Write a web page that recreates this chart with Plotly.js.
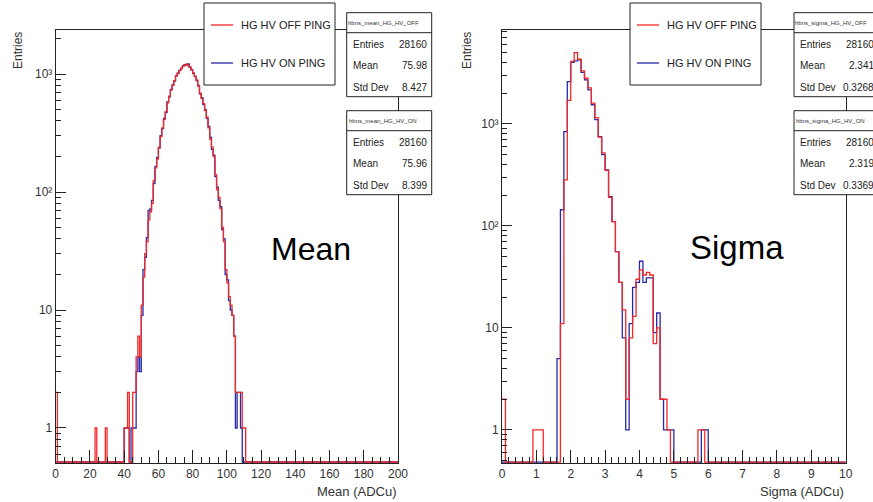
<!DOCTYPE html>
<html><head><meta charset="utf-8">
<script src="https://cdn.plot.ly/plotly-3.0.1.min.js"></script>
<style>html,body{margin:0;padding:0;background:#fff;}#chart{width:873px;height:502px;}</style>
</head><body><div id="chart"></div>
<script>
// ---------------- data ----------------
const meanBinWidth = 1;      // ADCu, bins start at 0
const meanOff = [2,0,0,0,0,0,0,0,0,0, 0,0,0,0,0,0,0,0,0,0, 0,0,0,1,0,0,0,0,0,1,
  0,0,0,0,0,0,0,0,0,0, 1,1,2,0,0,2,2,4,6,4,
  11,19,30,38,58,68,80,125,160,190, 240,295,350,410,480,570,650,730,800,880,
  960,1020,1070,1120,1160,1190,1210,1180,1150,1080, 1020,950,890,790,690,620,560,490,430,350,
  280,240,200,140,105,90,72,50,38,22, 17,13,11,9,6,2,2,2,2,1, 1];
const meanOn = [0,0,0,0,0,0,0,0,0,0, 0,0,0,0,0,0,0,0,0,0, 0,0,0,0,0,0,0,0,0,0,
  0,0,0,0,0,0,0,0,0,0, 1,1,1,0,1,1,1,3,4,3,
  9,22,28,41,70,72,85,118,165,196, 235,300,345,420,470,580,640,740,810,870,
  970,1010,1080,1110,1170,1200,1190,1220,1140,1090, 1010,960,880,800,680,630,550,500,420,360,
  290,230,205,135,110,85,75,48,40,20, 18,12,10,9,6,1,2,2,1];
const sigmaBinWidth = 0.1;   // ADCu, bins start at 0
const sigmaOff = [2,0,0,0,0,0,0,0,0,1, 1,1,0,0,0,0,0,11,283,1700,
  4100,5000,4300,3300,2800,2250,1600,1150,740,520, 350,190,110,56,28,15,2,8,13,30,
  37,33,35,33,7,10,2,2,1,0, 0,0,0,0,0,0,0,1,1];
const sigmaOn = [0,0,0,0,0,0,0,0,0,0, 0,0,0,0,0,0,5,144,840,2600,
  4000,4150,4250,3200,2700,2150,1540,1100,750,500, 354,194,110,56,28,8,1,11,25,28,
  45,28,31,31,9,14,2,1,1,1, 0,0,0,0,0,0,0,0,1,1];

const seriesNames = ['HG HV OFF PING', 'HG HV ON PING'];
const statsLabels = ['Entries', 'Mean', 'Std Dev'];
const meanStatsTitles = ['hbns_mean_HG_HV_OFF', 'hbns_mean_HG_HV_ON'];
const meanStatsOff = ['28160', '75.98', '8.427'];
const meanStatsOn = ['28160', '75.96', '8.399'];
const sigmaStatsTitles = ['hbns_sigma_HG_HV_OFF', 'hbns_sigma_HG_HV_ON'];
const sigmaStatsOff = ['28160', '2.341', '0.3268'];
const sigmaStatsOn = ['28160', '2.319', '0.3369'];
const bigLabels = ['Mean', 'Sigma'];
const xTitles = ['Mean (ADCu)', 'Sigma (ADCu)'];
const yTitle = 'Entries';
const yTickVals = [1, 10, 100, 1000];
const yTickText = ['1', '10', '10\u00B2', '10\u00B3'];

// ---------------- styling / layout ----------------
const W = 873, H = 502;
const FONT = 'Liberation Sans, Arial, Helvetica, sans-serif';
const RED = '#f02828', BLUE = '#2828a8', FRAME = '#222', TXT = '#333';
const meanYRange = [Math.log10(0.505), 3.373];
const sigmaYRange = [-0.324, 3.92];
const px = x => x / W;
const py = y => 1 - y / H;

// minor log ticks at 2..9 of every decade (axis decoration)
const logMinor = [];
for (let k = -1; k <= 4; k++) for (let d = 2; d <= 9; d++) logMinor.push(d * Math.pow(10, k));

function steps(counts, w, xmax, yr) {
  const floor = Math.pow(10, yr[0] + 1.0 / 118);
  const x = [], y = [];
  counts.forEach((c, i) => { x.push(i * w); y.push(c > 0 ? c : floor); });
  x.push(counts.length * w); y.push(floor);
  x.push(xmax); y.push(floor);
  return {x, y};
}
function trace(counts, w, xmax, yr, color, name, xa, ya) {
  const s = steps(counts, w, xmax, yr);
  return {type: 'scatter', mode: 'lines', x: s.x, y: s.y, name: name,
    line: {shape: 'hv', color: color, width: 1.3}, xaxis: xa, yaxis: ya,
    hoverinfo: 'skip', showlegend: false};
}

const data = [
  trace(meanOn, meanBinWidth, 200, meanYRange, BLUE, seriesNames[1], 'x', 'y'),
  trace(meanOff, meanBinWidth, 200, meanYRange, RED, seriesNames[0], 'x', 'y'),
  trace(sigmaOn, sigmaBinWidth, 10, sigmaYRange, BLUE, seriesNames[1], 'x2', 'y2'),
  trace(sigmaOff, sigmaBinWidth, 10, sigmaYRange, RED, seriesNames[0], 'x2', 'y2')
];

const yDom = [py(463), py(30)];
function xAxis(dom, range, dt, mdt) {
  return {domain: dom, range: range, dtick: dt, tick0: 0, ticks: 'inside', ticklen: 13,
    tickwidth: 1, tickcolor: FRAME, showline: true, linecolor: FRAME, linewidth: 1,
    mirror: true, showgrid: false, zeroline: false, fixedrange: true,
    tickfont: {family: FONT, size: 12, color: TXT},
    minor: {dtick: mdt, tick0: 0, ticks: 'inside', ticklen: 6.5, tickwidth: 1, tickcolor: FRAME, showgrid: false}};
}
function yAxis(range, anchor) {
  return {domain: yDom, type: 'log', range: range, tickmode: 'array',
    tickvals: yTickVals, ticktext: yTickText,
    ticks: 'inside', ticklen: 10, tickwidth: 1, tickcolor: FRAME, showline: true,
    linecolor: FRAME, linewidth: 1, mirror: true, showgrid: false, zeroline: false,
    fixedrange: true, anchor: anchor, tickfont: {family: FONT, size: 12, color: TXT},
    minor: {tickmode: 'array', tickvals: logMinor, ticks: 'inside', ticklen: 5, tickwidth: 1,
      tickcolor: FRAME, showgrid: false}};
}

const shapes = [], annotations = [];
function rect(x0, y0, x1, y1) {
  shapes.push({type: 'rect', xref: 'paper', yref: 'paper', x0: px(x0), x1: px(x1),
    y0: py(y1), y1: py(y0), line: {color: FRAME, width: 1}, fillcolor: '#fff', layer: 'above'});
}
function hline(x0, x1, y, color, width) {
  shapes.push({type: 'line', xref: 'paper', yref: 'paper', x0: px(x0), x1: px(x1),
    y0: py(y), y1: py(y), line: {color: color, width: width}, layer: 'above'});
}
function text(t, x, y, anchor, size, color, extra) {
  annotations.push(Object.assign({text: t, xref: 'paper', yref: 'paper', x: px(x), y: py(y),
    xanchor: anchor, yanchor: 'middle', showarrow: false,
    font: {family: FONT, size: size, color: color}}, extra || {}));
}
function legendBox(x0) {
  rect(x0, 3, x0 + 131, 85);
  hline(x0 + 7, x0 + 29, 25, RED, 1.3);
  text(seriesNames[0], x0 + 35, 25, 'left', 11, '#222');
  hline(x0 + 7, x0 + 29, 63, BLUE, 1.3);
  text(seriesNames[1], x0 + 35, 63, 'left', 11, '#222');
}
function statsBox(x0, y0, title, vals) {
  const x1 = x0 + 85;
  rect(x0, y0, x1, y0 + 84);
  hline(x0, x1, y0 + 20, FRAME, 1);
  text(title, (x0 + x1) / 2 - 6, y0 + 10, 'center', 6, '#333');
  statsLabels.forEach((l, i) => {
    text(l, x0 + 4, y0 + 31.5 + i * 21.5, 'left', 10, '#222');
    text(vals[i], x1 - 3, y0 + 31.5 + i * 21.5, 'right', 10, '#222');
  });
}
legendBox(204);
legendBox(630);
statsBox(346.7, 12.7, meanStatsTitles[0], meanStatsOff);
statsBox(346.7, 110.7, meanStatsTitles[1], meanStatsOn);
statsBox(794, 12.7, sigmaStatsTitles[0], sigmaStatsOff);
statsBox(794, 110.7, sigmaStatsTitles[1], sigmaStatsOn);

text(bigLabels[0], 311, 249, 'center', 32, '#000');
text(bigLabels[1], 737, 247, 'center', 33, '#000');
text(xTitles[0], 398, 491, 'right', 13, TXT);
text(xTitles[1], 846, 491, 'right', 13, TXT);
text(yTitle, 18, 51, 'center', 12, TXT, {textangle: -90});
text(yTitle, 467, 51, 'center', 12, TXT, {textangle: -90});

const layout = {
  width: W, height: H, margin: {l: 0, r: 0, t: 0, b: 0},
  paper_bgcolor: '#fff', plot_bgcolor: '#fff', showlegend: false,
  font: {family: FONT, color: TXT},
  xaxis: Object.assign(xAxis([px(55.7), px(398)], [0, 200], 20, 5), {anchor: 'y'}),
  yaxis: yAxis(meanYRange, 'x'),
  xaxis2: Object.assign(xAxis([px(502), px(845.7)], [0, 10], 1, 0.2), {anchor: 'y2'}),
  yaxis2: yAxis(sigmaYRange, 'x2'),
  shapes: shapes, annotations: annotations
};
Plotly.newPlot('chart', data, layout, {staticPlot: true, displayModeBar: false});
</script></body></html>
